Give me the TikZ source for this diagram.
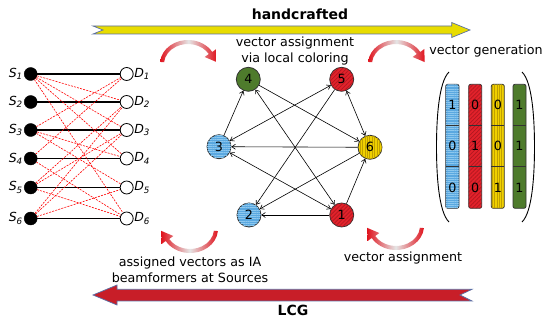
\documentclass[tikz,border=0pt]{standalone}
\usepackage{fontspec}
\setmainfont{DejaVu Sans}
\usetikzlibrary{arrows.meta,patterns.meta}
\definecolor{cblue}{HTML}{5AA8E0}
\definecolor{cbluel}{HTML}{8EC8EE}
\definecolor{cred}{HTML}{E2222B}
\definecolor{credl}{HTML}{B01820}
\definecolor{cyel}{HTML}{F0D000}
\definecolor{cyell}{HTML}{C0A000}
\definecolor{cgreen}{HTML}{4E7B2C}
\definecolor{arrowyel}{HTML}{E8DC00}
\definecolor{arrowred}{HTML}{C81E28}
\definecolor{arrowedge}{HTML}{5B6FA5}
\definecolor{curvred}{HTML}{E0141E}
\begin{document}
\begin{tikzpicture}[x=1pt,y=-1pt,
  txt/.style={font=\fontsize{12.7}{15.5}\selectfont, inner sep=0pt, align=center},
  boldtxt/.style={font=\fontsize{14}{16}\selectfont\bfseries, inner sep=0pt},
  src/.style={circle, fill=black, draw=black, minimum size=13pt, inner sep=0pt},
  dst/.style={circle, fill=white, draw=black, line width=0.8pt, minimum size=13pt, inner sep=0pt},
  slab/.style={font=\fontsize{12.5}{12.5}\selectfont, inner sep=0.5pt},
  pair/.style={line width=1.3pt, black},
  intf/.style={red, line width=0.6pt, dash pattern=on 2pt off 1.2pt},
  gnode/.style={circle, minimum size=24pt, inner sep=0pt, draw=black!80, line width=0.8pt, font=\fontsize{12.7}{13}\selectfont},
  bluepat/.style={fill=cblue, postaction={pattern={Lines[angle=0,distance=2.2pt,line width=0.6pt]}, pattern color=cbluel}},
  redpat/.style={fill=cred, postaction={pattern={Lines[angle=45,distance=2.8pt,line width=0.7pt]}, pattern color=credl}},
  yelpat/.style={fill=cyel, postaction={pattern={Lines[angle=90,distance=2.4pt,line width=0.6pt]}, pattern color=cyell}},
  greenpat/.style={fill=cgreen},
  garrow/.style={line width=0.6pt, -{Straight Barb[length=3.5pt,width=5pt]}},
  gdarrow/.style={line width=0.6pt, {Straight Barb[length=3.5pt,width=5pt]}-{Straight Barb[length=3.5pt,width=5pt]}},
  barbox/.style={draw=black!80, line width=0.8pt, rounded corners=2pt},
  cell/.style={font=\fontsize{12.7}{13}\selectfont, inner sep=0pt},
  bigarrow/.style={draw=arrowedge, line width=0.7pt},
  curv/.pic={
    \shade[left color=curvred, right color=curvred, middle color=white!80!gray]
      (185:28 and 24) arc[start angle=185,end angle=330,x radius=28,y radius=24]
      -- (28.3,-15) -- (28.7,-1.9) -- (16.7,-7)
      -- (330:24 and 20) arc[start angle=330,end angle=185,x radius=24,y radius=20] -- cycle;
  }
]
\useasboundingbox (0,0) rectangle (544,320);

% big arrows
\filldraw[bigarrow, fill=arrowyel] (93,26) -- (451.7,26) -- (451.7,22.5) -- (470,30) -- (451.7,37.5) -- (451.7,34) -- (93,34) -- (103,30) -- cycle;
\filldraw[bigarrow, fill=arrowred] (93,295) -- (117,285) -- (117,289.3) -- (472,289.3) -- (460,295) -- (472,301) -- (117,301) -- (117,305) -- cycle;
\node[boldtxt] (hc) at (300,14) {handcrafted};
\node[boldtxt] (lcg) at (293,310) {LCG};

% curved arrows
\pic at (188,64) {curv};
\pic at (396,64) {curv};
\pic[rotate=180] at (190,229) {curv};
\pic[rotate=180] at (396,226) {curv};

% texts
\node[txt] (t1) at (295,51) {vector assignment\\via local coloring};
\node[txt] (t2) at (486,51) {vector generation};
\node[txt] (t3) at (190,270) {assigned vectors as IA\\beamformers at Sources};
\node[txt] (t4) at (403,258) {vector assignment};

% bipartite
\foreach \i/\y in {1/74,2/102,3/130,4/158.5,5/187.5,6/218.5}{
  \node[src, label={[slab, label distance=0.5pt]left:{\itshape S\textsubscript{\i}}}] (s\i) at (30.7,\y) {};
  \node[dst, label={[slab, label distance=0pt]right:{\itshape D\textsubscript{\i}}}] (d\i) at (126.7,\y) {};
  \draw[pair] (s\i) -- (d\i);
}
\foreach \a/\b in {1/2,1/3,1/4,1/6,3/1,3/4,3/5,4/1,4/6,5/2,5/3,5/6,6/2,6/3,6/5}{
  \draw[intf] (s\a) -- (d\b);
}

% conflict graph
\node[gnode, redpat] (g1) at (341.7,215) {1};
\node[gnode, bluepat] (g2) at (249,215) {2};
\node[gnode, bluepat] (g3) at (219,146.7) {3};
\node[gnode, greenpat] (g4) at (248.3,79.3) {4};
\node[gnode, redpat] (g5) at (341.7,79.3) {5};
\node[gnode, yelpat] (g6) at (370,147.3) {6};
\draw[garrow] (g3) -- (g4);
\draw[garrow] (g4) -- (g6);
\draw[gdarrow] (g4) -- (g1);
\draw[gdarrow] (g5) -- (g3);
\draw[garrow] (g5) -- (g2);
\draw[gdarrow] (g5) -- (g6);
\draw[garrow] (g6) -- (g3);
\draw[garrow] (g6) -- (g2);
\draw[gdarrow] (g3) -- (g1);
\draw[garrow] (g1) -- (g2);
\draw[garrow] (g1) -- (g6);

% vectors
\draw[barbox, bluepat] (445.7,84.3) rectangle (459,208.3);
\draw[barbox, redpat] (468.7,84.3) rectangle (481.7,208.3);
\draw[barbox, yelpat] (491.3,84.3) rectangle (504.3,208.3);
\draw[barbox, greenpat] (513,84.3) rectangle (526,208.3);
\foreach \xa/\xb in {445.7/459,468.7/481.7,491.3/504.3,513/526}{
  \draw[black!80, line width=0.8pt] (\xa,125) -- (\xb,125);
  \draw[black!80, line width=0.8pt] (\xa,166.7) -- (\xb,166.7);
}
\foreach \x/\p/\q/\r [count=\k] in {452.3/1/0/0,475.2/0/1/0,497.8/0/0/1,519.5/1/1/1}{
  \node[cell] (v\k a) at (\x,104.7) {\p};
  \node[cell] (v\k b) at (\x,145.9) {\q};
  \node[cell] (v\k c) at (\x,187.5) {\r};
}
\draw[line width=0.9pt] (449,72) .. controls (438.5,82) and (436.5,120) .. (436.5,147) .. controls (436.5,174) and (438.5,212) .. (449,222);
\draw[line width=0.9pt] (522,72) .. controls (532.5,82) and (534.5,120) .. (534.5,147) .. controls (534.5,174) and (532.5,212) .. (522,222);
\end{tikzpicture}
\end{document}
